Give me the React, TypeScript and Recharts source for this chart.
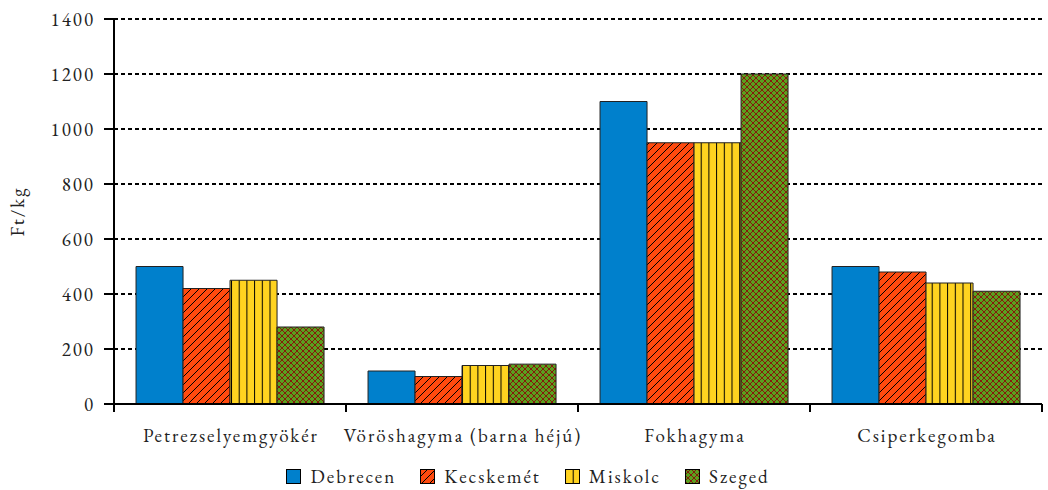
import React from 'react';
import { BarChart, Bar, XAxis, YAxis, CartesianGrid, Legend } from 'recharts';

const categories = ['Petrezselyemgyökér', 'Vöröshagyma (barna héjú)', 'Fokhagyma', 'Csiperkegomba'];
const debrecen = [500, 120, 1100, 500];
const kecskemet = [420, 100, 950, 480];
const miskolc = [450, 140, 950, 440];
const szeged = [280, 145, 1200, 410];
const yTicks = [0, 200, 400, 600, 800, 1000, 1200, 1400];

const data = categories.map((name, i) => ({
  name,
  Debrecen: debrecen[i],
  'Kecskemét': kecskemet[i],
  Miskolc: miskolc[i],
  Szeged: szeged[i],
}));

const FONT = "'EB Garamond'";
const W = 1048;
const H = 490;
const PLOT_LEFT = 114;
const PLOT_RIGHT = 6;
const BAND = (W - PLOT_LEFT - PLOT_RIGHT) / categories.length;

const series = [
  { key: 'Debrecen', fill: '#0080CC' },
  { key: 'Kecskemét', fill: 'url(#diag)' },
  { key: 'Miskolc', fill: 'url(#vert)' },
  { key: 'Szeged', fill: 'url(#cross)' },
];

const XTick = (props: any) => {
  const { x, y, payload, index } = props;
  return (
    <g>
      <line x1={x - BAND / 2} x2={x - BAND / 2} y1={y} y2={y + 8} stroke="#000" strokeWidth={2} />
      {index === categories.length - 1 && (
        <line x1={x + BAND / 2} x2={x + BAND / 2} y1={y} y2={y + 8} stroke="#000" strokeWidth={2} />
      )}
      <text x={x + 1} y={y + 38} textAnchor="middle" style={{ fontFamily: FONT, fontSize: 19, letterSpacing: 2 }} fill="#222">
        {payload.value}
      </text>
    </g>
  );
};

const LegendContent = () => (
  <div style={{ display: 'flex', justifyContent: 'center', gap: 24, height: 28, alignItems: 'center', paddingLeft: 14, fontFamily: FONT, fontSize: 19, letterSpacing: 2, color: '#222' }}>
    {series.map((s) => (
      <div key={s.key} style={{ display: 'flex', alignItems: 'center', gap: 9 }}>
        <svg width={15} height={15}>
          <rect x={0.5} y={0.5} width={14} height={14} fill={s.fill} stroke="#000" strokeWidth={1} />
        </svg>
        <span>{s.key}</span>
      </div>
    ))}
  </div>
);

export default function App() {
  return (
    <div style={{ position: 'absolute', left: 0, top: 0, background: '#fff' }}>
      <BarChart
        width={W}
        height={H}
        data={data}
        margin={{ top: 19, right: PLOT_RIGHT, left: 0, bottom: 0 }}
        barCategoryGap="9.5%"
        barGap={0}
      >
        <defs>
          <pattern id="diag" patternUnits="userSpaceOnUse" width={8} height={8}>
            <rect width={8} height={8} fill="#FF4A0E" />
            <path d="M0,8 L8,0 M-2,2 L2,-2 M6,10 L10,6" stroke="#000" strokeWidth={1} />
          </pattern>
          <pattern id="vert" patternUnits="userSpaceOnUse" width={7.7} height={8}>
            <rect width={7.7} height={8} fill="#FFD320" />
            <line x1={0.5} x2={0.5} y1={0} y2={8} stroke="#000" strokeWidth={1} />
          </pattern>
          <pattern id="cross" patternUnits="userSpaceOnUse" width={6} height={6}>
            <rect width={6} height={6} fill="#5AA01E" />
            <path d="M0,0 L6,6 M6,0 L0,6" stroke="#8B0A0A" strokeWidth={0.9} />
          </pattern>
        </defs>
        <CartesianGrid vertical={false} stroke="#000" strokeWidth={2} strokeDasharray="4 3" />
        <XAxis
          dataKey="name"
          axisLine={{ stroke: '#000', strokeWidth: 2 }}
          tickLine={false}
          tickSize={0}
          tickMargin={0}
          tick={<XTick />}
          height={58}
          interval={0}
        />
        <YAxis
          domain={[0, 1400]}
          ticks={yTicks}
          width={PLOT_LEFT}
          axisLine={{ stroke: '#000', strokeWidth: 2 }}
          tickLine={{ stroke: '#000', strokeWidth: 2 }}
          tickSize={10}
          tickMargin={9}
          tick={{ style: { fontFamily: FONT, fontSize: 19, letterSpacing: 2 }, fill: '#222' }}
          label={{ value: 'Ft/kg', angle: -90, position: 'insideLeft', offset: 17, style: { fontFamily: FONT, fontSize: 19, fill: '#222', textAnchor: 'middle', letterSpacing: 2 } }}
        />
        <Legend verticalAlign="bottom" height={28} content={<LegendContent />} />
        {series.map((s) => (
          <Bar key={s.key} dataKey={s.key} fill={s.fill} stroke="#222" strokeWidth={1} isAnimationActive={false} />
        ))}
      </BarChart>
    </div>
  );
}
